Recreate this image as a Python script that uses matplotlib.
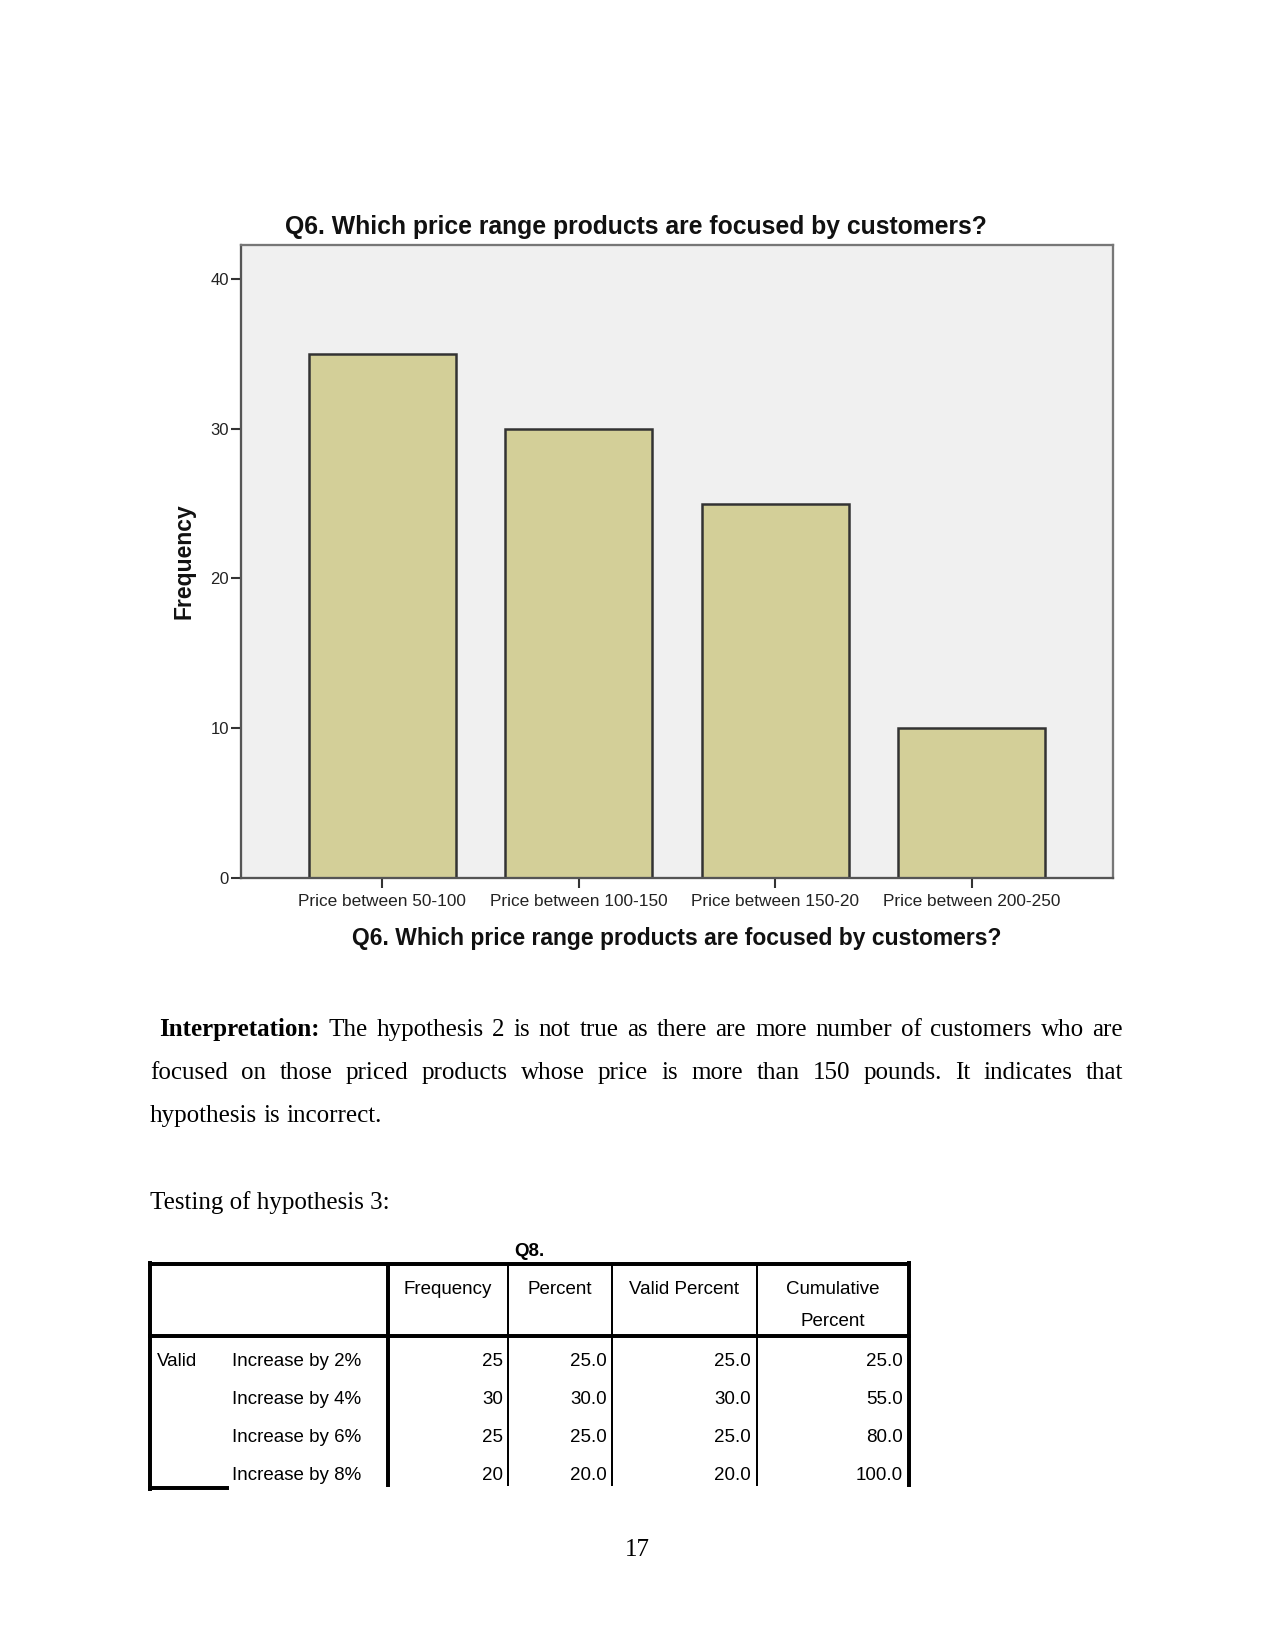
import matplotlib
matplotlib.use("Agg")
import matplotlib.pyplot as plt
import numpy as np

# page is 8.5 x 11 in at 150 dpi -> 1275 x 1650 px
W, H = 1275, 1650

# chart data
categories = ["Price between 50-100", "Price between 100-150",
              "Price between 150-20", "Price between 200-250"]
frequency = [35, 30, 25, 10]
chart_title = "Q6. Which price range products are focused by customers?"

# text
line1 = "Interpretation: The hypothesis 2 is not true as there are more number of customers who are"
line2 = "focused on those priced products whose price is more than 150 pounds. It indicates that"
line3 = "hypothesis is incorrect."
heading = "Testing of hypothesis 3:"

# table data
tbl_title = "Q8."
tbl_rows = ["Increase by 2%", "Increase by 4%", "Increase by 6%", "Increase by 8%"]
tbl_freq = [25, 30, 25, 20]
tbl_pct = [25.0, 30.0, 25.0, 20.0]
tbl_valid = [25.0, 30.0, 25.0, 20.0]
tbl_cum = [25.0, 55.0, 80.0, 100.0]

sans = "Liberation Sans"
serif = "Liberation Serif"

fig = plt.figure(figsize=(W / 150, H / 150), dpi=150)

# ---- bar chart ----
ax = fig.add_axes([241 / W, 1 - 878 / H, 872 / W, 633 / H])
ax.set_facecolor("#f0f0f0")
x = np.arange(len(categories))
ax.bar(x, frequency, width=0.75, color="#d3cf98", edgecolor="#333333", linewidth=1.2, zorder=2)
ax.set_xlim(-0.72, 3.72)
ax.set_ylim(0, 42.27)
ax.set_yticks([0, 10, 20, 30, 40])
ax.set_xticks(x)
ax.set_xticklabels(categories, fontsize=8.3, family=sans, color="#222222")
for lab in ax.get_yticklabels():
    lab.set_fontsize(8)
    lab.set_family(sans)
    lab.set_color("#222222")
ax.tick_params(axis="y", length=4.8, width=1.0, color="#333333", pad=1)
ax.tick_params(axis="x", length=4.8, width=1.0, color="#333333", pad=3)
for s in ["left", "bottom"]:
    ax.spines[s].set_color("#555555")
    ax.spines[s].set_linewidth(1.1)
for s in ["top", "right"]:
    ax.spines[s].set_color("#777777")
    ax.spines[s].set_linewidth(1.1)

# ---- page overlay in pixel coordinates ----
pg = fig.add_axes([0, 0, 1, 1])
pg.set_xlim(0, W)
pg.set_ylim(H, 0)
pg.axis("off")
pg.patch.set_alpha(0)

pg.text(636, 227, chart_title, fontsize=11.9, weight="bold", family=sans,
        ha="center", va="center", color="#111111")
pg.text(677, 939, chart_title, fontsize=11.0, weight="bold", family=sans,
        ha="center", va="center", color="#111111")
pg.text(184, 561, "Frequency", fontsize=11.0, weight="bold", family=sans,
        ha="center", va="center", rotation=90, color="#111111")

renderer = fig.canvas.get_renderer()


def place_line(text, x0, x1, y, n_bold=0, justify=True):
    words = text.split(" ")
    items = []
    for i, w in enumerate(words):
        t = pg.text(0, y, w, fontsize=12, family=serif, va="baseline",
                    weight="bold" if i < n_bold else "normal")
        items.append(t)
    widths = [t.get_window_extent(renderer).width for t in items]
    if justify:
        gap = (x1 - x0 - sum(widths)) / (len(words) - 1)
    else:
        gap = pg.text(0, 0, " ", fontsize=12, family=serif).get_window_extent(renderer).width
    xx = x0
    for t, w in zip(items, widths):
        t.set_x(xx)
        xx += w + gap


place_line(line1, 159, 1123, 1036, n_bold=1)
place_line(line2, 150, 1123, 1079)
place_line(line3, 150, 1123, 1122, justify=False)
pg.text(150, 1209, heading, fontsize=12, family=serif, va="baseline")
pg.text(637, 1556, "17", fontsize=12, family=serif, ha="center", va="baseline")

# ---- table ----
thick = 1.9
thin = 0.95
pg.text(529, 1251, tbl_title, fontsize=9, weight="bold", family=sans, ha="center", va="center")
pg.plot([150, 909], [1264, 1264], color="black", lw=thick)
pg.plot([150, 909], [1336, 1336], color="black", lw=thick)
pg.plot([150, 150], [1263, 1489], color="black", lw=thick)
pg.plot([388, 388], [1264, 1485], color="black", lw=thick)
pg.plot([508, 508], [1264, 1485], color="black", lw=thin)
pg.plot([612, 612], [1264, 1485], color="black", lw=thin)
pg.plot([757, 757], [1264, 1485], color="black", lw=thin)
pg.plot([909, 909], [1263, 1485], color="black", lw=thick)
pg.plot([150, 227], [1488, 1488], color="black", lw=thick)

tfs = 9
pg.text(448, 1290, "Frequency", fontsize=tfs, family=sans, ha="center", va="center")
pg.text(560, 1290, "Percent", fontsize=tfs, family=sans, ha="center", va="center")
pg.text(684, 1290, "Valid Percent", fontsize=tfs, family=sans, ha="center", va="center")
pg.text(833, 1290, "Cumulative", fontsize=tfs, family=sans, ha="center", va="center")
pg.text(833, 1322, "Percent", fontsize=tfs, family=sans, ha="center", va="center")

row_y = [1362, 1399, 1437, 1475]
pg.text(157, row_y[0], "Valid", fontsize=tfs, family=sans, va="center")
for i, y in enumerate(row_y):
    pg.text(232, y, tbl_rows[i], fontsize=tfs, family=sans, va="center")
    pg.text(503, y, str(tbl_freq[i]), fontsize=tfs, family=sans, ha="right", va="center")
    pg.text(607, y, "%.1f" % tbl_pct[i], fontsize=tfs, family=sans, ha="right", va="center")
    pg.text(751, y, "%.1f" % tbl_valid[i], fontsize=tfs, family=sans, ha="right", va="center")
    pg.text(903, y, "%.1f" % tbl_cum[i], fontsize=tfs, family=sans, ha="right", va="center")

fig.savefig("out.png", dpi=150)
plt.close("all")
